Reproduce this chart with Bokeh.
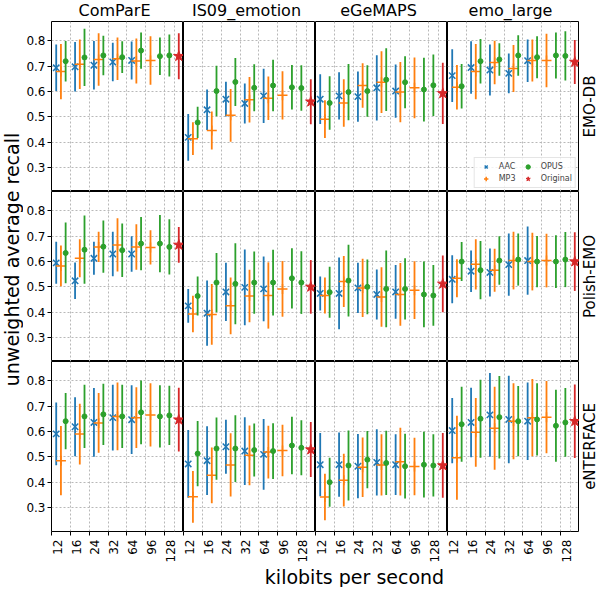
import math
from bokeh.plotting import figure
from bokeh.layouts import column, row
from bokeh.models import (FixedTicker, LinearAxis, Grid, Range1d, Legend,
                          LegendItem, ColumnDataSource)
from bokeh.core.properties import value
from bokeh.embed import file_html
from bokeh.resources import INLINE

# ---------------- data ----------------
feature_sets = ["ComParE", "IS09_emotion", "eGeMAPS", "emo_large"]
datasets = ["EMO-DB", "Polish-EMO", "eNTERFACE"]
bitrates = ["12", "16", "24", "32", "64", "96", "128"]
codec_bitrates = {"AAC": bitrates[:5], "MP3": bitrates[:6], "OPUS": bitrates}
y_ticks = [0.3, 0.4, 0.5, 0.6, 0.7, 0.8]

aac_mean = {
    ("EMO-DB", "ComParE"): [0.694, 0.698, 0.704, 0.717, 0.723],
    ("EMO-DB", "IS09_emotion"): [0.419, 0.528, 0.570, 0.553, 0.583],
    ("EMO-DB", "eGeMAPS"): [0.570, 0.583, 0.580, 0.615, 0.602],
    ("EMO-DB", "emo_large"): [0.663, 0.695, 0.685, 0.672, 0.722],
    ("Polish-EMO", "ComParE"): [0.595, 0.524, 0.613, 0.630, 0.630],
    ("Polish-EMO", "IS09_emotion"): [0.425, 0.396, 0.480, 0.498, 0.492],
    ("Polish-EMO", "eGeMAPS"): [0.474, 0.474, 0.496, 0.470, 0.480],
    ("Polish-EMO", "emo_large"): [0.530, 0.562, 0.557, 0.588, 0.604],
    ("eNTERFACE", "ComParE"): [0.591, 0.619, 0.636, 0.655, 0.647],
    ("eNTERFACE", "IS09_emotion"): [0.472, 0.485, 0.540, 0.523, 0.510],
    ("eNTERFACE", "eGeMAPS"): [0.469, 0.469, 0.463, 0.478, 0.469],
    ("eNTERFACE", "emo_large"): [0.604, 0.636, 0.666, 0.648, 0.641],
}
aac_std = {
    ("EMO-DB", "ComParE"): [0.092, 0.098, 0.096, 0.076, 0.075],
    ("EMO-DB", "IS09_emotion"): [0.092, 0.080, 0.069, 0.079, 0.107],
    ("EMO-DB", "eGeMAPS"): [0.098, 0.093, 0.099, 0.129, 0.105],
    ("EMO-DB", "emo_large"): [0.104, 0.104, 0.101, 0.079, 0.084],
    ("Polish-EMO", "ComParE"): [0.083, 0.072, 0.065, 0.088, 0.070],
    ("Polish-EMO", "IS09_emotion"): [0.067, 0.129, 0.115, 0.150, 0.128],
    ("Polish-EMO", "eGeMAPS"): [0.067, 0.142, 0.099, 0.099, 0.106],
    ("Polish-EMO", "emo_large"): [0.095, 0.082, 0.095, 0.123, 0.135],
    ("eNTERFACE", "ComParE"): [0.124, 0.117, 0.136, 0.130, 0.136],
    ("eNTERFACE", "IS09_emotion"): [0.134, 0.136, 0.107, 0.134, 0.140],
    ("eNTERFACE", "eGeMAPS"): [0.125, 0.127, 0.127, 0.131, 0.120],
    ("eNTERFACE", "emo_large"): [0.129, 0.137, 0.166, 0.173, 0.153],
}
mp3_mean = {
    ("EMO-DB", "ComParE"): [0.679, 0.708, 0.727, 0.730, 0.721, 0.723],
    ("EMO-DB", "IS09_emotion"): [0.414, 0.446, 0.506, 0.568, 0.574, 0.585],
    ("EMO-DB", "eGeMAPS"): [0.491, 0.555, 0.624, 0.637, 0.598, 0.615],
    ("EMO-DB", "emo_large"): [0.617, 0.679, 0.715, 0.691, 0.723, 0.723],
    ("Polish-EMO", "ComParE"): [0.583, 0.613, 0.658, 0.666, 0.658, 0.656],
    ("Polish-EMO", "IS09_emotion"): [0.393, 0.391, 0.425, 0.464, 0.466, 0.492],
    ("Polish-EMO", "eGeMAPS"): [0.466, 0.521, 0.496, 0.460, 0.470, 0.487],
    ("Polish-EMO", "emo_large"): [0.534, 0.589, 0.566, 0.604, 0.600, 0.604],
    ("eNTERFACE", "ComParE"): [0.485, 0.590, 0.634, 0.660, 0.655, 0.666],
    ("eNTERFACE", "IS09_emotion"): [0.342, 0.427, 0.468, 0.506, 0.519, 0.525],
    ("eNTERFACE", "eGeMAPS"): [0.341, 0.408, 0.459, 0.468, 0.481, 0.462],
    ("eNTERFACE", "emo_large"): [0.497, 0.597, 0.613, 0.641, 0.655, 0.657],
}
mp3_std = {
    ("EMO-DB", "ComParE"): [0.109, 0.098, 0.104, 0.084, 0.089, 0.096],
    ("EMO-DB", "IS09_emotion"): [0.065, 0.075, 0.104, 0.090, 0.086, 0.095],
    ("EMO-DB", "eGeMAPS"): [0.075, 0.094, 0.088, 0.122, 0.119, 0.120],
    ("EMO-DB", "emo_large"): [0.088, 0.109, 0.086, 0.093, 0.083, 0.106],
    ("Polish-EMO", "ComParE"): [0.081, 0.075, 0.060, 0.105, 0.090, 0.068],
    ("Polish-EMO", "IS09_emotion"): [0.072, 0.120, 0.112, 0.104, 0.131, 0.110],
    ("Polish-EMO", "eGeMAPS"): [0.071, 0.101, 0.115, 0.118, 0.124, 0.114],
    ("Polish-EMO", "emo_large"): [0.075, 0.099, 0.085, 0.114, 0.114, 0.106],
    ("eNTERFACE", "ComParE"): [0.137, 0.120, 0.118, 0.134, 0.120, 0.125],
    ("eNTERFACE", "IS09_emotion"): [0.102, 0.110, 0.125, 0.118, 0.104, 0.102],
    ("eNTERFACE", "eGeMAPS"): [0.092, 0.104, 0.118, 0.121, 0.134, 0.114],
    ("eNTERFACE", "emo_large"): [0.166, 0.136, 0.164, 0.150, 0.153, 0.143],
}
opus_mean = {
    ("EMO-DB", "ComParE"): [0.720, 0.735, 0.743, 0.736, 0.762, 0.740, 0.743],
    ("EMO-DB", "IS09_emotion"): [0.478, 0.602, 0.638, 0.615, 0.624, 0.617, 0.614],
    ("EMO-DB", "eGeMAPS"): [0.555, 0.598, 0.602, 0.647, 0.637, 0.608, 0.625],
    ("EMO-DB", "emo_large"): [0.621, 0.720, 0.727, 0.743, 0.736, 0.743, 0.741],
    ("Polish-EMO", "ComParE"): [0.634, 0.647, 0.659, 0.645, 0.671, 0.671, 0.658],
    ("Polish-EMO", "IS09_emotion"): [0.464, 0.517, 0.512, 0.517, 0.517, 0.534, 0.517],
    ("Polish-EMO", "eGeMAPS"): [0.479, 0.525, 0.500, 0.492, 0.492, 0.470, 0.466],
    ("Polish-EMO", "emo_large"): [0.600, 0.566, 0.604, 0.608, 0.600, 0.600, 0.608],
    ("eNTERFACE", "ComParE"): [0.641, 0.660, 0.668, 0.660, 0.676, 0.660, 0.664],
    ("eNTERFACE", "IS09_emotion"): [0.513, 0.533, 0.533, 0.527, 0.523, 0.545, 0.536],
    ("eNTERFACE", "eGeMAPS"): [0.400, 0.466, 0.489, 0.476, 0.463, 0.469, 0.466],
    ("eNTERFACE", "emo_large"): [0.629, 0.651, 0.657, 0.641, 0.648, 0.623, 0.636],
}
opus_std = {
    ("EMO-DB", "ComParE"): [0.080, 0.113, 0.078, 0.063, 0.072, 0.074, 0.083],
    ("EMO-DB", "IS09_emotion"): [0.062, 0.100, 0.095, 0.093, 0.102, 0.088, 0.090],
    ("EMO-DB", "eGeMAPS"): [0.106, 0.111, 0.102, 0.124, 0.103, 0.126, 0.122],
    ("EMO-DB", "emo_large"): [0.088, 0.088, 0.064, 0.080, 0.083, 0.091, 0.097],
    ("Polish-EMO", "ComParE"): [0.120, 0.135, 0.103, 0.106, 0.105, 0.113, 0.109],
    ("Polish-EMO", "IS09_emotion"): [0.077, 0.117, 0.160, 0.123, 0.130, 0.119, 0.124],
    ("Polish-EMO", "eGeMAPS"): [0.101, 0.142, 0.108, 0.152, 0.121, 0.130, 0.120],
    ("Polish-EMO", "emo_large"): [0.077, 0.115, 0.096, 0.103, 0.101, 0.104, 0.109],
    ("eNTERFACE", "ComParE"): [0.111, 0.125, 0.121, 0.125, 0.126, 0.123, 0.117],
    ("eNTERFACE", "IS09_emotion"): [0.129, 0.123, 0.132, 0.105, 0.110, 0.114, 0.109],
    ("eNTERFACE", "eGeMAPS"): [0.097, 0.138, 0.113, 0.127, 0.128, 0.130, 0.123],
    ("eNTERFACE", "emo_large"): [0.148, 0.154, 0.163, 0.139, 0.143, 0.142, 0.136],
}
original_mean = {
    "EMO-DB": [0.740, 0.560, 0.593, 0.717],
    "Polish-EMO": [0.666, 0.500, 0.512, 0.600],
    "eNTERFACE": [0.647, 0.529, 0.466, 0.641],
}
original_std = {
    "EMO-DB": [0.091, 0.089, 0.121, 0.087],
    "Polish-EMO": [0.071, 0.106, 0.112, 0.116],
    "eNTERFACE": [0.126, 0.109, 0.128, 0.145],
}

# ---------------- styles / layout ----------------
FONT = "DejaVu Sans"
COLORS = {"AAC": "#1f77b4", "MP3": "#ff7f0e", "OPUS": "#2ca02c", "Original": "#d62728"}
MARKERS = {"AAC": "x", "MP3": "cross", "OPUS": "circle", "Original": "star"}
MSIZE = {"AAC": 9, "MP3": 10, "OPUS": 5, "Original": 11}
MLW = {"AAC": 1.5, "MP3": 1.5, "OPUS": 1, "Original": 1}
FW, FH = 132, 170
YLAB_W = 23
RLAB_W = 18
LEFT_B = 25
BOTTOM_B = 28
TITLE_H = 21
XLAB_H = 22
Y_RANGE = (0.205, 0.877)
X_RANGE = (0, len(bitrates))
GRID_COLOR = "#b8b8b8"

# members of each bitrate group (Original sits in the last group)
members = [[] for _ in bitrates]
for codec in ["AAC", "MP3", "OPUS"]:
    for b in codec_bitrates[codec]:
        members[bitrates.index(b)].append(codec)
members[-1].append("Original")


def x_of(codec, bi):
    m = members[bi]
    k = m.index(codec)
    n = len(m)
    return bi + 0.25 + (0.5 * k / (n - 1) if n > 1 else 0.25)


def base_fig(**kw):
    f = figure(x_axis_location=None, y_axis_location=None, toolbar_location=None,
               output_backend="svg", min_border=0, **kw)
    f.xgrid.visible = False
    f.ygrid.visible = False
    f.background_fill_color = "white"
    f.border_fill_color = "white"
    return f


def make_panel(r, c):
    ds, fs = datasets[r], feature_sets[c]
    key = (ds, fs)
    p = base_fig(frame_width=FW, frame_height=FH,
                 x_range=Range1d(*X_RANGE), y_range=Range1d(*Y_RANGE),
                 min_border_left=LEFT_B if c == 0 else 0,
                 min_border_bottom=BOTTOM_B if r == 2 else 0)
    p.outline_line_color = "black"
    p.outline_line_width = 1
    xgrid_ticks = list(range(1, len(bitrates))) + [len(bitrates) - 0.5]
    p.add_layout(Grid(dimension=0, ticker=FixedTicker(ticks=xgrid_ticks),
                      grid_line_color=GRID_COLOR, grid_line_dash="2 2", grid_line_width=1))
    p.add_layout(Grid(dimension=1, ticker=FixedTicker(ticks=y_ticks),
                      grid_line_color=GRID_COLOR, grid_line_dash="2 2", grid_line_width=1))

    series = {
        "AAC": (codec_bitrates["AAC"], aac_mean[key], aac_std[key]),
        "MP3": (codec_bitrates["MP3"], mp3_mean[key], mp3_std[key]),
        "OPUS": (codec_bitrates["OPUS"], opus_mean[key], opus_std[key]),
        "Original": ([bitrates[-1]], [original_mean[ds][c]], [original_std[ds][c]]),
    }
    legend_items = []
    for codec, (brs, means, stds) in series.items():
        xs = [x_of(codec, bitrates.index(b)) for b in brs]
        src = ColumnDataSource(dict(x=xs, y=means,
                                    lo=[m - s for m, s in zip(means, stds)],
                                    hi=[m + s for m, s in zip(means, stds)]))
        col = COLORS[codec]
        p.segment(x0="x", y0="lo", x1="x", y1="hi", source=src,
                  line_color=col, line_width=1.8)
        mr = p.scatter("x", "y", source=src, marker=MARKERS[codec], size=MSIZE[codec],
                       line_color=col, fill_color=col, line_width=MLW[codec])
        vr = p.scatter(x=[], y=[], marker="dash", angle=math.pi / 2, size=10,
                       line_color=col, line_width=1.5)
        legend_items.append(LegendItem(label=codec, renderers=[vr, mr]))

    if r == 0 and c == len(feature_sets) - 1:
        leg = Legend(items=legend_items, location="bottom_right", ncols=2,
                     label_text_font=FONT, label_text_font_size="8px",
                     glyph_width=16, glyph_height=11, label_standoff=5,
                     spacing=1, padding=3, margin=3,
                     border_line_color="#cccccc", border_line_width=1,
                     background_fill_color="white", background_fill_alpha=0.8)
        p.add_layout(leg)

    if c == 0:
        ya = LinearAxis(ticker=FixedTicker(ticks=y_ticks),
                        major_tick_out=4, major_tick_in=0,
                        minor_tick_out=0, minor_tick_in=0,
                        axis_line_color=None, major_tick_line_color="black",
                        major_label_standoff=2,
                        major_label_text_font=FONT, major_label_text_font_size="12px",
                        major_label_text_color="black")
        p.add_layout(ya, "left")
    if r == len(datasets) - 1:
        label_ticks = [round(i + 0.3, 2) for i in range(len(bitrates))]
        xa = LinearAxis(ticker=FixedTicker(ticks=label_ticks, minor_ticks=list(range(len(bitrates)))),
                        major_label_overrides={t: b for t, b in zip(label_ticks, bitrates)},
                        major_label_orientation=math.pi / 2,
                        major_tick_out=0, major_tick_in=0,
                        minor_tick_out=4, minor_tick_in=0,
                        minor_tick_line_color="black",
                        axis_line_color=None, major_label_standoff=4,
                        major_label_text_font=FONT, major_label_text_font_size="12px",
                        major_label_text_color="black")
        p.add_layout(xa, "below")
    return p


# column titles
tstrip = base_fig(frame_width=4 * FW, frame_height=TITLE_H,
                  x_range=Range1d(0, len(feature_sets)), y_range=Range1d(0, TITLE_H),
                  min_border_left=YLAB_W + LEFT_B, min_border_right=RLAB_W)
tstrip.outline_line_color = None
tstrip.text(x=[i + 0.5 for i in range(len(feature_sets))], y=[2] * len(feature_sets),
            text=feature_sets, text_align="center", text_baseline="bottom",
            text_font=value(FONT), text_font_size="16px", text_color="black")

# panels
panel_rows = []
for r in range(len(datasets)):
    panel_rows.append(row([make_panel(r, c) for c in range(len(feature_sets))], spacing=0))
grid = column(panel_rows, spacing=0)

# y label (spans the three rows)
ylab = base_fig(frame_width=YLAB_W, frame_height=3 * FH,
                x_range=Range1d(0, YLAB_W), y_range=Range1d(0, 3 * FH),
                min_border_bottom=BOTTOM_B)
ylab.outline_line_color = None
ylab.text(x=[YLAB_W / 2], y=[1.5 * FH + 17], text=["unweighted average recall"],
          angle=math.pi / 2, text_align="center", text_baseline="middle",
          text_font=value(FONT), text_font_size="19px", text_color="black")

# row labels on the right
rlab = base_fig(frame_width=RLAB_W, frame_height=3 * FH,
                x_range=Range1d(0, RLAB_W), y_range=Range1d(0, len(datasets)),
                min_border_bottom=BOTTOM_B)
rlab.outline_line_color = None
rlab.text(x=[RLAB_W / 2 + 1] * len(datasets),
          y=[len(datasets) - r - 0.5 for r in range(len(datasets))], text=datasets,
          angle=math.pi / 2, text_align="center", text_baseline="middle",
          text_font=value(FONT), text_font_size="15px", text_color="black")

# x label
TOTAL_W = YLAB_W + LEFT_B + 4 * FW + RLAB_W
xlab = base_fig(frame_width=TOTAL_W, frame_height=XLAB_H,
                x_range=Range1d(0, TOTAL_W), y_range=Range1d(0, XLAB_H))
xlab.outline_line_color = None
xlab.text(x=[YLAB_W + LEFT_B + 2 * FW - 6], y=[XLAB_H], text=["kilobits per second"],
          text_align="center", text_baseline="top",
          text_font=value(FONT), text_font_size="19px", text_color="black")

layout = column(tstrip, row(ylab, grid, rlab, spacing=0), xlab, spacing=0)

open("out.html", "w").write(file_html(layout, INLINE))
